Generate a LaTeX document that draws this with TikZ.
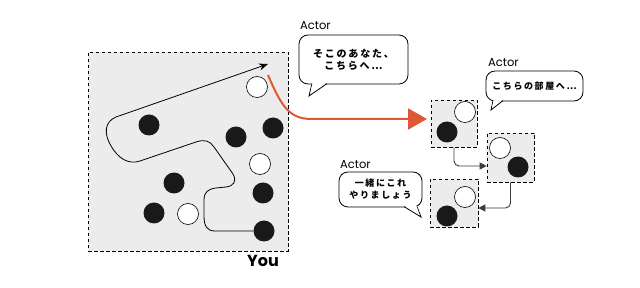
\documentclass[tikz,border=0pt]{standalone}
\usepackage{fontspec}
\setmainfont{Poppins}
\newfontfamily\jpfont{Noto Sans CJK JP}[LetterSpace=18]
\usepackage{tikz}
\usetikzlibrary{arrows.meta,positioning,calc}
\definecolor{panelgray}{RGB}{236,236,236}
\definecolor{accent}{RGB}{222,88,56}
\definecolor{conngray}{RGB}{60,60,60}

\begin{document}
\begin{tikzpicture}[
  x=1pt, y=-1pt,
  panel/.style={draw, dashed, dash pattern=on 3.5pt off 2.5pt, fill=panelgray, line width=0.6pt, inner sep=0pt},
  wdot/.style={circle, draw, line width=0.6pt, fill=white, minimum size=21pt, inner sep=0pt},
  bdot/.style={circle, fill=black!90, minimum size=21pt, inner sep=0pt},
  bubble/.style={draw, rounded corners=9pt, fill=white, line width=0.8pt, align=center, inner sep=0pt, font=\jpfont\bfseries},
  tail/.style={draw, fill=white, line width=0.8pt, line join=miter},
  actorlbl/.style={anchor=south west, inner sep=0pt, font=\fontsize{11.5}{13}\selectfont},
  conn/.style={-{Triangle[length=7pt, width=7pt]}, conngray, line width=0.9pt, rounded corners=5pt},
]
  \useasboundingbox (0,0) rectangle (640,288);

  % main room
  \node[panel, minimum width=200pt, minimum height=199pt] (room) at (188,151.5) {};
  \node[font=\fontsize{16}{18}\selectfont\bfseries, inner sep=0pt] (you) at (263,261) {You};

  \node[wdot] (c1) at (257,87) {};
  \node[bdot] (c2) at (149,125) {};
  \node[bdot] (c3) at (236,137) {};
  \node[bdot] (c4) at (273,128) {};
  \node[wdot] (c5) at (260,164) {};
  \node[bdot] (c6) at (174,183) {};
  \node[bdot] (c7) at (263,193) {};
  \node[bdot] (c8) at (154,213) {};
  \node[wdot] (c9) at (188,214) {};
  \node[bdot] (c10) at (264,231) {};

  % wandering route
  \coordinate (tip) at (268,64);
  \draw[-{Stealth[length=9pt, width=7pt]}, line width=0.8pt]
    (c10.west) -- (215,231)
    .. controls (207,231) and (204,226) .. (204,216) -- (204,200)
    .. controls (204,192) and (208,189) .. (216,188) -- (226,187)
    .. controls (234,186) and (237,181) .. (233,174) -- (214,147)
    .. controls (210,141) and (205,139) .. (196,142) -- (140,161)
    .. controls (128,165) and (118,158) .. (111,146)
    .. controls (104,134) and (104,122) .. (116,117) -- (tip);

  % small rooms
  \node[panel, minimum width=46pt, minimum height=47pt] (p1) at (454,123.5) {};
  \node[wdot] (p1w) at (465,112) {};
  \node[bdot] (p1b) at (447,132) {};
  \node[panel, minimum width=47pt, minimum height=49pt] (p2) at (510.5,157.5) {};
  \node[wdot] (p2w) at (500,148) {};
  \node[bdot] (p2b) at (518,167) {};
  \node[panel, minimum width=48pt, minimum height=48pt] (p3) at (454,203) {};
  \node[wdot] (p3w) at (465,197) {};
  \node[bdot] (p3b) at (447,216) {};

  % guide arrow
  \coordinate (g0) at (268,75);
  \coordinate (g1) at (427,119);
  \draw[accent, line width=2pt, -{Triangle[length=19pt, width=21pt]}]
    (g0) .. controls (282,108) and (290,119) .. (312,119) -- (g1);

  \coordinate (k1) at (0,166);
  \coordinate (k2) at (0,208);
  \draw[conn] (p1.south) |- (p2.west |- k1);
  \draw[conn] (p2.south) |- (p3.east |- k2);

  % speech bubbles
  \node[bubble, minimum width=109pt, minimum height=49pt, font=\jpfont\bfseries\fontsize{10}{12}\selectfont] (b1) at (353.5,59.5) {そこのあなた、\\こちらへ…};
  \coordinate (t1) at (309,96);
  \draw[tail] (312,83.6) -- (t1) -- (327,83.6);
  \fill[white] (312.6,83) -- (310.5,92) -- (325,83) -- cycle;
  \node[actorlbl] (a1) at (300,30) {Actor};

  \node[bubble, minimum width=97pt, minimum height=30pt, font=\jpfont\bfseries\fontsize{9}{11}\selectfont] (b2) at (534.5,86) {こちらの部屋へ…};
  \coordinate (t2) at (491,110);
  \draw[tail] (493,100.6) -- (t2) -- (503,100.6);
  \fill[white] (493.6,100) -- (492.3,106.5) -- (501.5,100) -- cycle;
  \node[actorlbl] (a2) at (488,67) {Actor};

  \node[bubble, minimum width=83pt, minimum height=35pt, font=\jpfont\bfseries\fontsize{9}{12}\selectfont] (b3) at (380.5,189.5) {一緒にこれ\\やりましょう};
  \coordinate (t3) at (421,217);
  \draw[tail] (404,206.6) -- (t3) -- (417,206.6);
  \fill[white] (405.5,206) -- (419.6,215) -- (416.4,206) -- cycle;
  \node[actorlbl] (a3) at (340,169) {Actor};
\end{tikzpicture}
\end{document}
